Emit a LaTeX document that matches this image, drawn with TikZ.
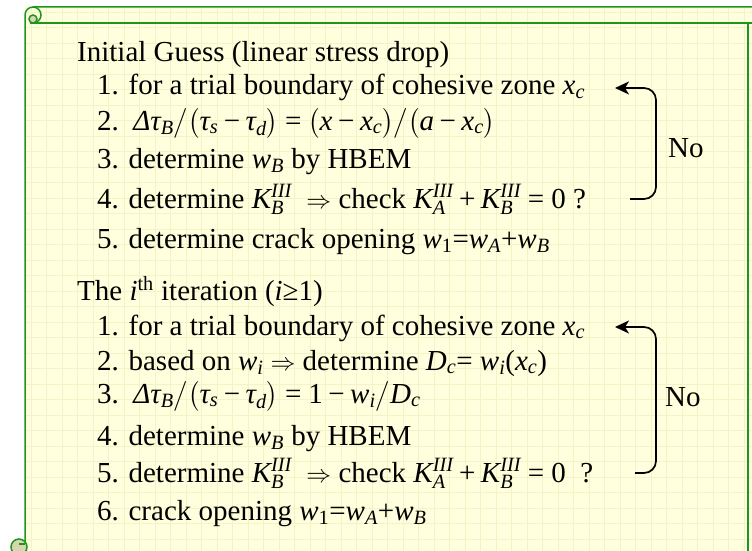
\documentclass[tikz,border=0pt]{standalone}
\usepackage{amsmath}
\usepackage{fontspec}
\setmainfont{Liberation Serif}
\usetikzlibrary{arrows.meta}

\definecolor{scrollfill}{RGB}{255,255,222}
\definecolor{scrollgrid}{RGB}{242,244,200}
\definecolor{scrollline}{RGB}{30,150,30}
\definecolor{curlfill}{RGB}{214,214,176}

\newcommand{\vr}[1]{\textit{#1}}
\newcommand{\teq}{\mathrel{\textup{=}}}
\newcommand{\tplus}{\mathbin{\textup{+}}}
\newcommand{\tminus}{\mathbin{\textup{−}}}

\begin{document}
\begin{tikzpicture}[x=1pt,y=-1pt,
  frame/.style={draw=scrollline,line width=1.5pt},
  gridline/.style={scrollgrid,line width=0.8pt},
  curl/.style={frame,fill=curlfill},
  txt/.style={anchor=base west,inner sep=0pt,font=\fontsize{29}{33}\selectfont},
  loopback/.style={-{Stealth[length=14pt,width=13pt,inset=4pt]},line width=1.7pt,rounded corners=12pt}]
  \useasboundingbox (0,0) rectangle (752,551);
  \clip (0,0) rectangle (752,551);

  % scroll background
  \fill[scrollfill] (25,7) rectangle (760,560);
  \foreach \x in {31,46.5,...,760} \draw[gridline] (\x,7) -- (\x,560);
  \foreach \y in {12,27.5,...,560} \draw[gridline] (25,\y) -- (760,\y);
  \draw[frame] (25,560) -- (25,15) arc[start angle=180,end angle=270,radius=8] -- (760,7);
  \draw[frame] (30,23) -- (760,23);
  \draw[frame] (748,23) -- (748,560);
  \draw[frame] (33,7) arc[start angle=270,end angle=450,radius=8];
  \filldraw[curl] (33,19) circle (4);
  \filldraw[curl] (19,547) circle (8);
  \draw[frame] (19,544) -- (25,544);

  % initial guess
  \node[txt] (init) at (77,62) {Initial Guess (linear stress drop)};
  \node[txt] (i1) at (97,95) {1. for a trial boundary of cohesive zone $\vr{x}_{\vr{c}}$};
  \node[txt] (i2) at (97,130) {2.\ \ $\vr{Δτ}_{\vr{B}}\big/\big(\vr{τ}_{\vr{s}}\tminus\vr{τ}_{\vr{d}}\big)\teq\big(\vr{x}\tminus\vr{x}_{\vr{c}}\big)\big/\big(\vr{a}\tminus\vr{x}_{\vr{c}}\big)$};
  \node[txt] (i3) at (97,168) {3. determine $\vr{w}_{\vr{B}}$ by HBEM};
  \node[txt] (i4) at (97,208) {4. determine $\vr{K}_{\vr{B}}^{\vr{III}}$\ \ $\Rightarrow$ check $\vr{K}_{\vr{A}}^{\vr{III}}\tplus\vr{K}_{\vr{B}}^{\vr{III}}\teq\textup{0}$ ?};
  \node[txt] (i5) at (97,248) {5. determine crack opening $\vr{w}_{\textup{1}}{\teq}\vr{w}_{\vr{A}}{\tplus}\vr{w}_{\vr{B}}$};

  % i-th iteration
  \node[txt] (iter) at (77,300) {The \vr{i}\textsuperscript{th} iteration (\vr{i}≥1)};
  \node[txt] (j1) at (97,335) {1. for a trial boundary of cohesive zone $\vr{x}_{\vr{c}}$};
  \node[txt] (j2) at (97,370) {2. based on $\vr{w}_{\vr{i}}\Rightarrow$ determine $\vr{D}_{\vr{c}}{\teq}\ \vr{w}_{\vr{i}}\textup{(}\vr{x}_{\vr{c}}\textup{)}$};
  \node[txt] (j3) at (97,403) {3.\ \ $\vr{Δτ}_{\vr{B}}\big/\big(\vr{τ}_{\vr{s}}\tminus\vr{τ}_{\vr{d}}\big)\teq\textup{1}\tminus\vr{w}_{\vr{i}}\big/\vr{D}_{\vr{c}}$};
  \node[txt] (j4) at (97,445) {4. determine $\vr{w}_{\vr{B}}$ by HBEM};
  \node[txt] (j5) at (97,482) {5. determine $\vr{K}_{\vr{B}}^{\vr{III}}$\ \ $\Rightarrow$ check $\vr{K}_{\vr{A}}^{\vr{III}}\tplus\vr{K}_{\vr{B}}^{\vr{III}}\teq\textup{0}$\ \ ?};
  \node[txt] (j6) at (97,520) {6. crack opening $\vr{w}_{\textup{1}}{\teq}\vr{w}_{\vr{A}}{\tplus}\vr{w}_{\vr{B}}$};

  % loops back
  \node[txt] (noA) at (668,157) {No};
  \node[txt] (noB) at (665,406) {No};
  \coordinate (tipA) at (615,88);
  \coordinate (tailA) at (630,199);
  \coordinate (tipB) at (615,327);
  \coordinate (tailB) at (635,473);
  \draw[loopback] (tailA) -| (656,88) -- (tipA);
  \draw[loopback] (tailB) -| (656,327) -- (tipB);
\end{tikzpicture}
\end{document}
